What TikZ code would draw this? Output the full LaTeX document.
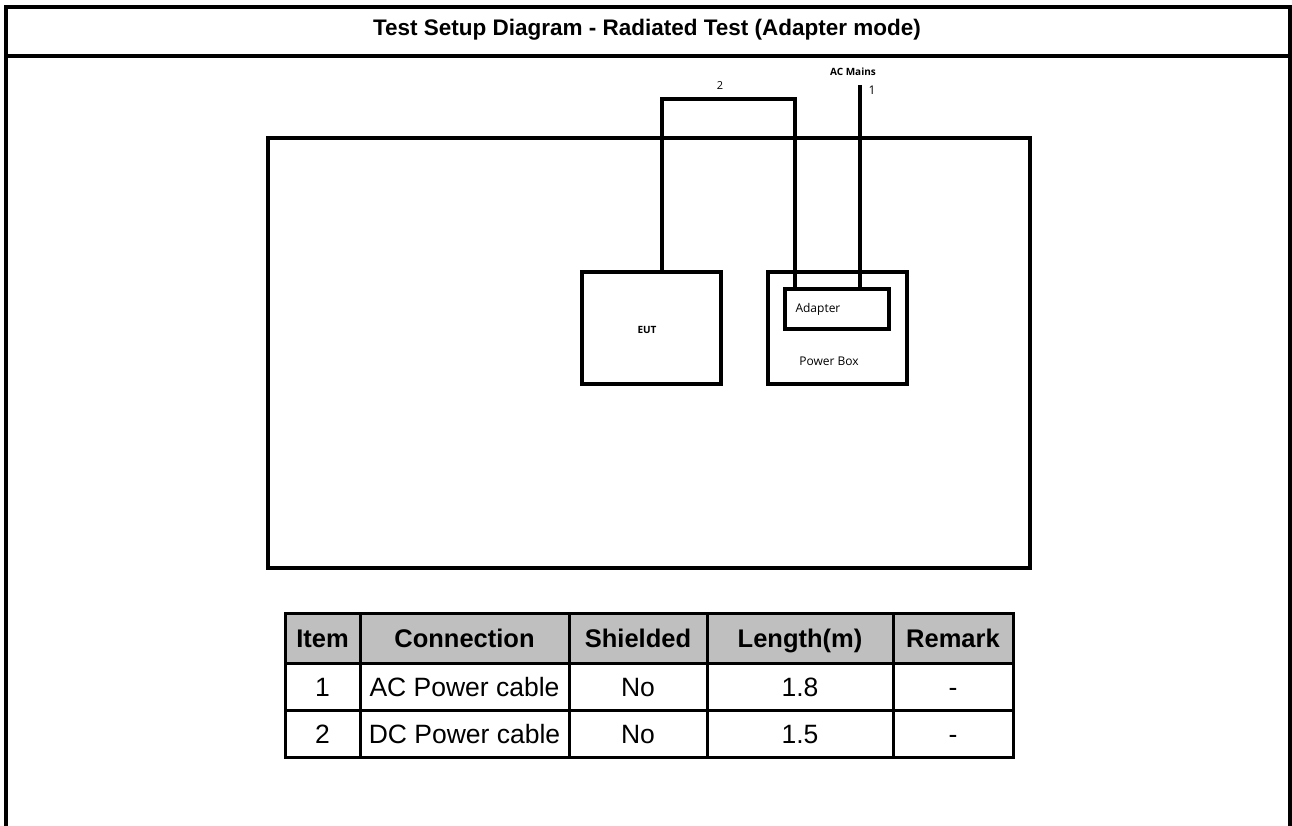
\documentclass[tikz,border=0pt]{standalone}
\usepackage{fontspec}
\setmainfont{Liberation Sans}
\newfontfamily\labelfont{Open Sans}
\usetikzlibrary{positioning,calc}
\begin{document}
\begin{tikzpicture}[x=1pt,y=-1pt,
	box/.style={rectangle,draw,line width=4pt,inner sep=0pt},
	wire/.style={line width=4pt},
	cell/.style={rectangle,draw,line width=3pt,inner sep=0pt,outer sep=0pt,minimum height=47pt,text height=19pt,text depth=0pt,font=\fontsize{26.5}{30}\selectfont},
	head/.style={cell,fill=black!25,minimum height=50pt,font=\fontsize{25.5}{30}\selectfont\bfseries}]
	\useasboundingbox (0,0) rectangle (1292,826);
	% outer frame and title
	\draw[line width=4.5pt] (6,826) -- (6,7) -- (1290,7) -- (1290,826);
	\draw[line width=4pt] (6,56) -- (1290,56);
	\node (title) at (647,30) {\fontsize{22.5}{26}\selectfont\bfseries Test Setup Diagram - Radiated Test (Adapter mode)};

	% test setup
	\node (setup)[box,minimum width=762pt,minimum height=430pt,anchor=north west] at (266,136){};
	\node (eut)[box,minimum width=139pt,minimum height=112pt,anchor=north west] at (580,270){};
	\node at (647,330) {\labelfont\fontsize{10}{12}\selectfont\bfseries EUT};
	\node (powerbox)[box,minimum width=139pt,minimum height=112pt,anchor=north west] at (766,270){};
	\node (adapter)[box,minimum width=104pt,minimum height=40pt,anchor=north west] at (783,287){};
	\node [anchor=west] at (792,309) {\labelfont\fontsize{12}{14}\selectfont Adapter};
	\node at (829,361) {\labelfont\fontsize{12}{14}\selectfont Power Box};

	\coordinate (dca) at (662,99);
	\coordinate (dcb) at (795,99);
	\coordinate (mains) at (860,85);
	\draw[wire] (dca |- eut.north) -- (dca) -- (dcb) -- (dcb |- adapter.north);
	\draw[wire] (mains) -- (mains |- adapter.north);
	\node at (720,86) {\labelfont\fontsize{11}{13}\selectfont 2};
	\node at (872,90) {\labelfont\fontsize{12}{14}\selectfont 1};
	\node at (853,72) {\labelfont\fontsize{10}{12}\selectfont\bfseries AC Mains};

	% cable table
	\node (h1)[head,minimum width=75pt,anchor=north west] at (285,613){Item};
	\node (h2)[head,minimum width=209pt,anchor=west] at (h1.east){Connection};
	\node (h3)[head,minimum width=138pt,anchor=west] at (h2.east){Shielded};
	\node (h4)[head,minimum width=186pt,anchor=west] at (h3.east){Length(m)};
	\node (h5)[head,minimum width=120pt,anchor=west] at (h4.east){Remark};

	\node (a1)[cell,minimum width=75pt,anchor=north] at (h1.south){1};
	\node (a2)[cell,minimum width=209pt,anchor=north] at (h2.south){AC Power cable};
	\node (a3)[cell,minimum width=138pt,anchor=north] at (h3.south){No};
	\node (a4)[cell,minimum width=186pt,anchor=north] at (h4.south){1.8};
	\node (a5)[cell,minimum width=120pt,anchor=north] at (h5.south){-};

	\node (b1)[cell,minimum width=75pt,anchor=north] at (a1.south){2};
	\node (b2)[cell,minimum width=209pt,anchor=north] at (a2.south){DC Power cable};
	\node (b3)[cell,minimum width=138pt,anchor=north] at (a3.south){No};
	\node (b4)[cell,minimum width=186pt,anchor=north] at (a4.south){1.5};
	\node (b5)[cell,minimum width=120pt,anchor=north] at (a5.south){-};
\end{tikzpicture}
\end{document}
